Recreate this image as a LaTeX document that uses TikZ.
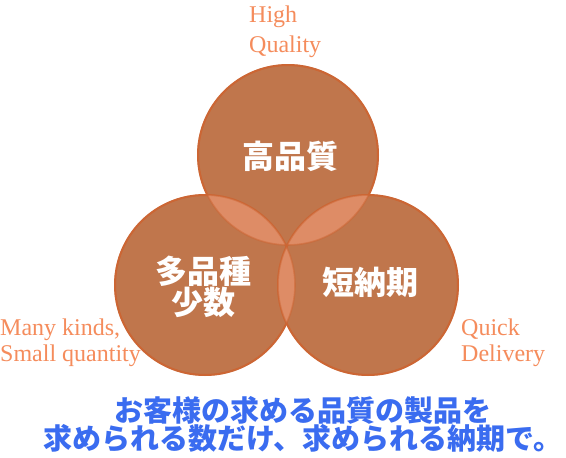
\documentclass[tikz,border=0pt]{standalone}
\usepackage{fontspec}
\setmainfont{Liberation Serif}
\newfontfamily\jpfont{Noto Sans CJK JP}
\usetikzlibrary{positioning}

\definecolor{circleFill}{RGB}{192,118,76}
\definecolor{circleEdge}{RGB}{204,102,52}
\definecolor{lensFill}{RGB}{222,140,102}
\definecolor{labelColor}{RGB}{245,140,92}
\definecolor{msgColor}{RGB}{58,108,240}

\tikzset{
  bubble/.style={draw=circleEdge,line width=2pt,fill=circleFill},
  rim/.style={draw=circleEdge,line width=1.6pt,draw opacity=0.55},
  tag/.style={text=labelColor,font=\fontsize{24}{26}\selectfont,align=left,inner sep=0pt},
  core/.style={text=white,font=\jpfont\bfseries\fontsize{32}{31}\selectfont,align=center,inner sep=0pt},
  message/.style={text=msgColor,font=\jpfont\bfseries\fontsize{29}{30}\selectfont,inner sep=0pt}
}

\begin{document}
\begin{tikzpicture}[x=1pt,y=-1pt]
\path[use as bounding box,fill=white] (0,0) rectangle (566,458);

% three circles
\coordinate (cq) at (288,155);
\coordinate (ck) at (205,285);
\coordinate (cd) at (368,285);
\path[bubble] (cq) circle (90);
\path[bubble] (ck) circle (90);
\path[bubble] (cd) circle (90);

% overlaps
\begin{scope}
\clip (cq) circle (90);
\fill[lensFill] (ck) circle (90);
\fill[lensFill] (cd) circle (90);
\end{scope}
\begin{scope}
\clip (ck) circle (90);
\fill[lensFill] (cd) circle (90);
\end{scope}
\path[rim] (cq) circle (90);
\path[rim] (ck) circle (90);
\path[rim] (cd) circle (90);

% circle texts
\node[core] (quality) at (290,156) {高品質};
\node[core] (kinds) at (203,287) {多品種\\少数};
\node[core] (delivery) at (370,282) {短納期};

% outside labels
\node[tag,anchor=north west,font=\fontsize{24}{30}\selectfont] (qlabel) at (249,6) {High\\Quality};
\node[tag,anchor=north west] (klabel) at (0,319) {Many kinds,\\Small quantity};
\node[tag,anchor=north west] (dlabel) at (461,319) {Quick\\Delivery};

% message
\node[message] (msg1) at (303,410) {お客様の求める品質の製品を};
\node[message] (msg2) at (303,438) {求められる数だけ、求められる納期で。};
\end{tikzpicture}
\end{document}
